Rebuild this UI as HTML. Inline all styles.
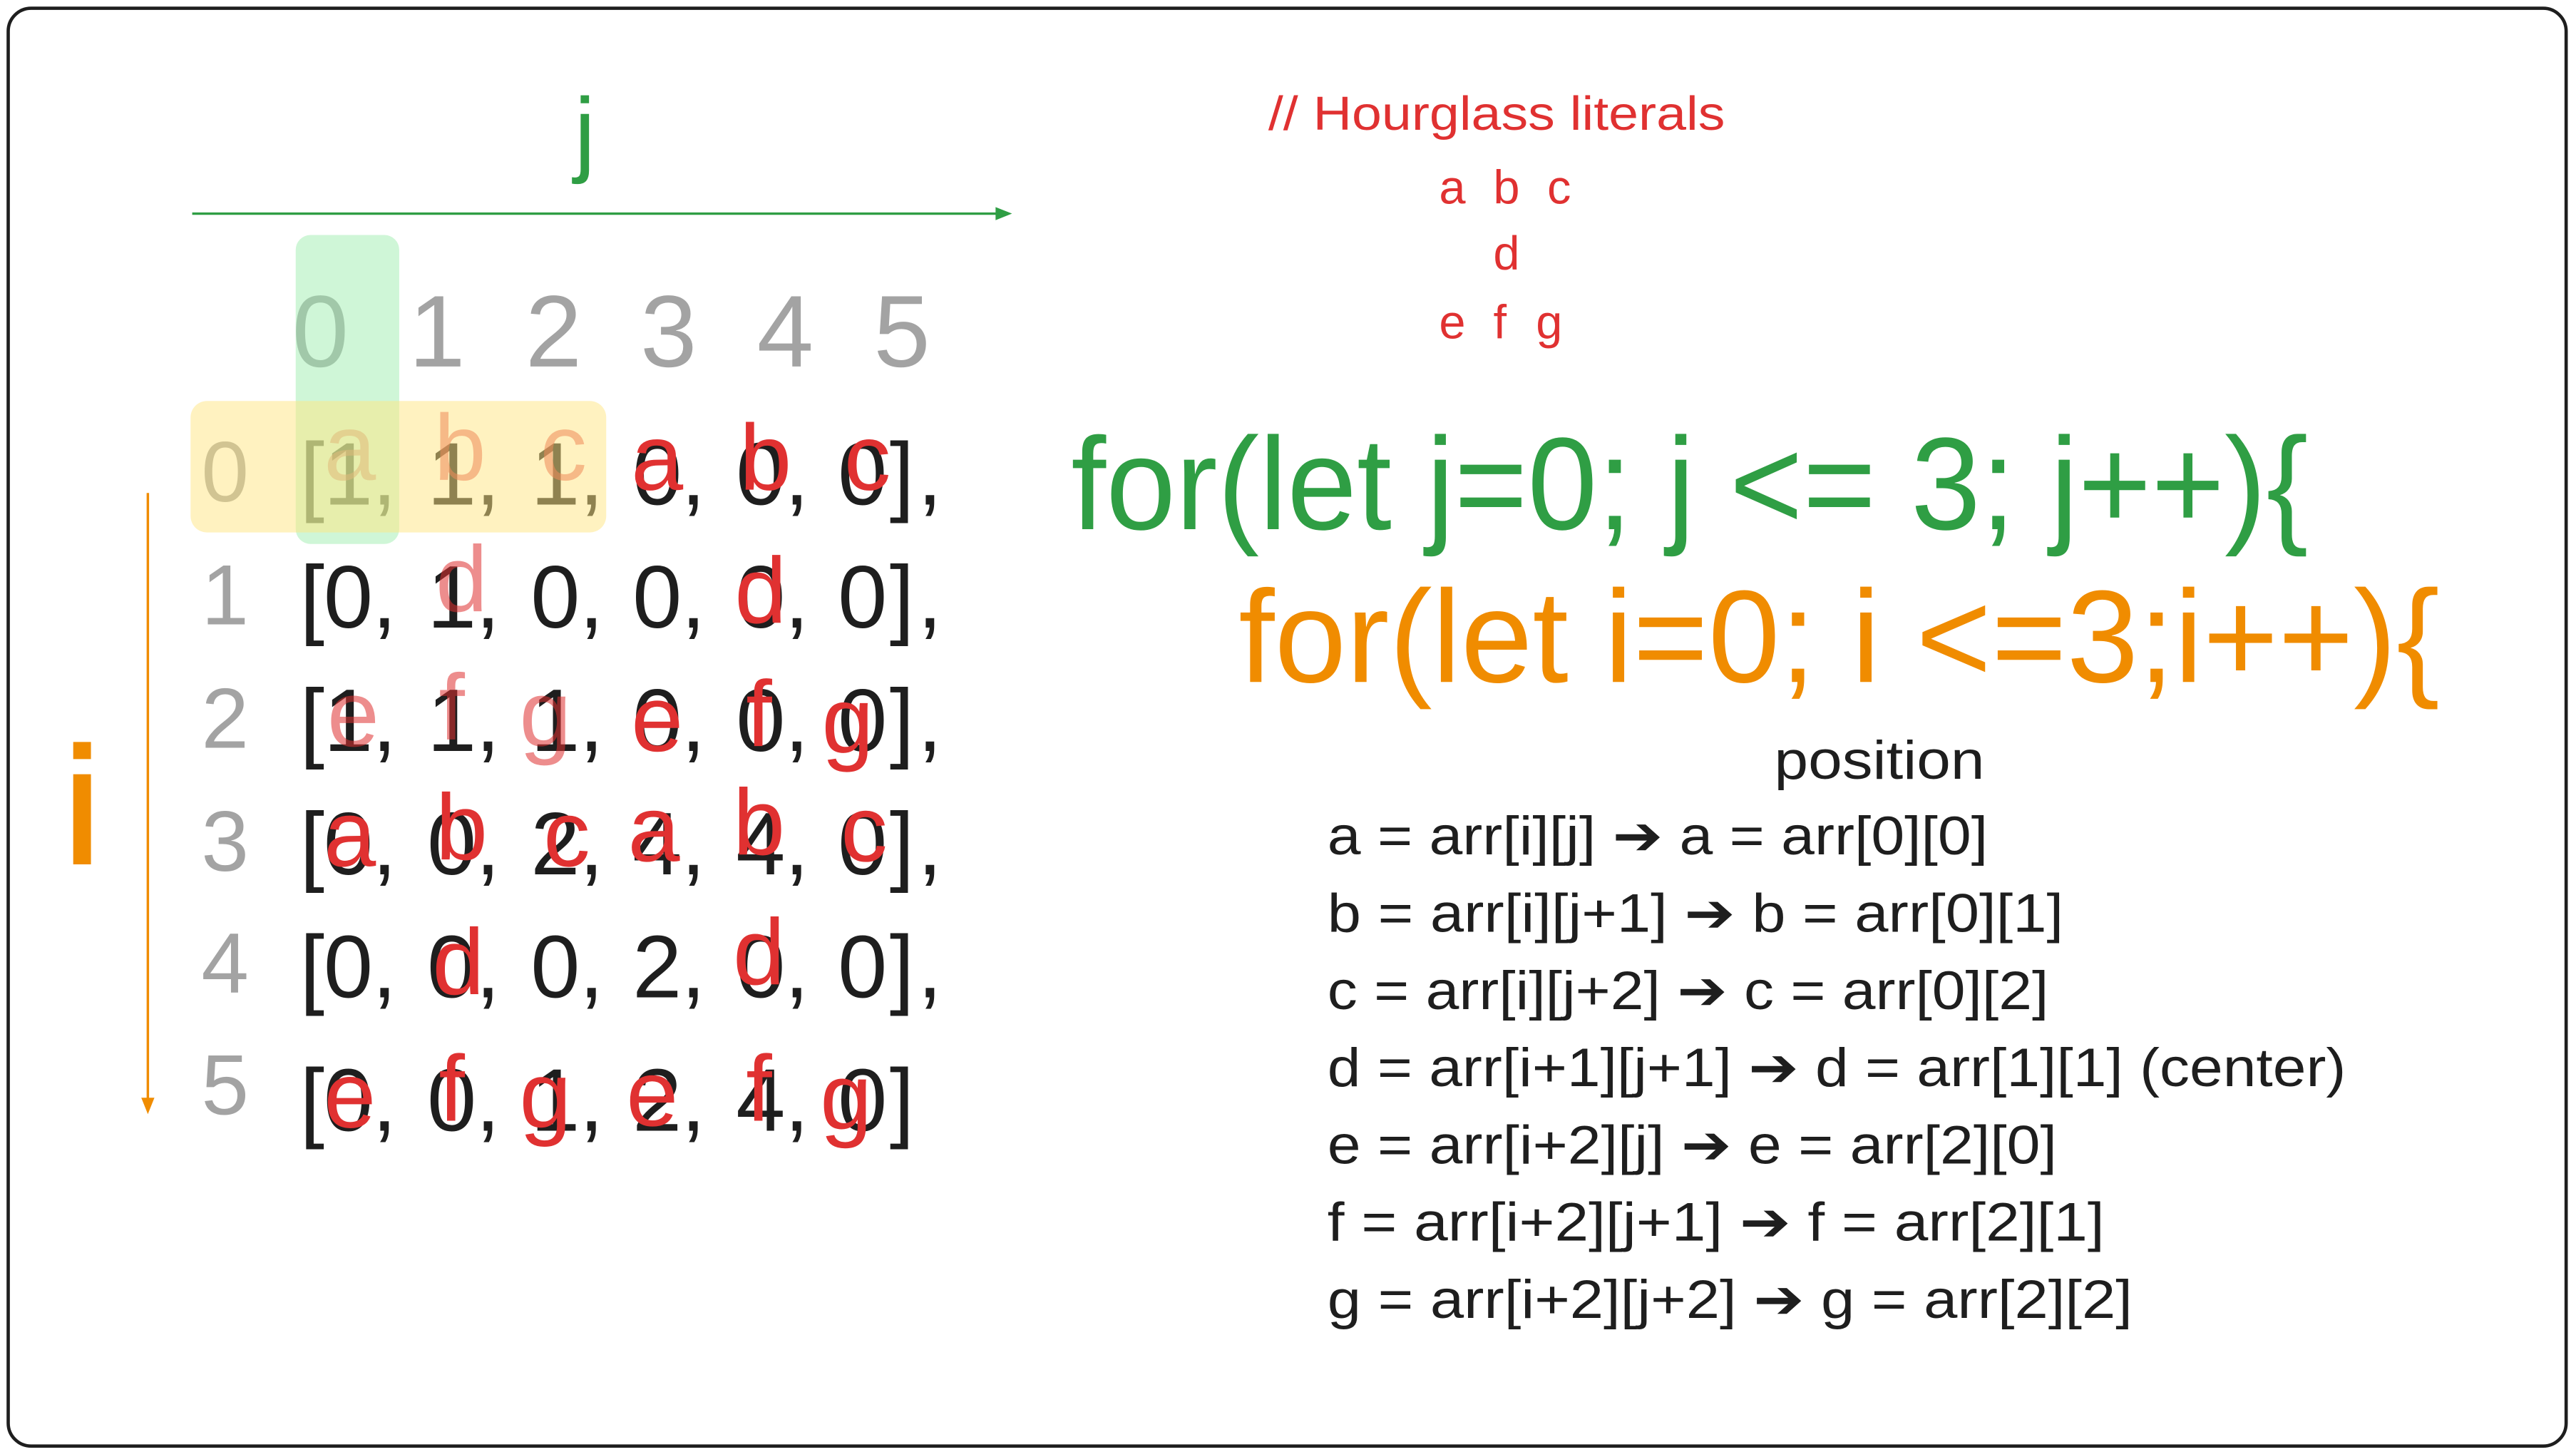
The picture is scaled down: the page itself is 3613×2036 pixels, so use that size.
<!DOCTYPE html>
<html><head><meta charset="utf-8"><style>
html,body{margin:0;padding:0;background:#fff;}
svg{display:block;}
text{font-family:"Liberation Sans",sans-serif;}
</style></head><body>
<svg width="3613" height="2036" viewBox="0 0 1568 883.6" xmlns="http://www.w3.org/2000/svg">
<rect x="0" y="0" width="1568" height="883.6" fill="#fff"/>
<rect x="5" y="5" width="1557" height="875" rx="14" fill="none" stroke="#1e1e1e" stroke-width="2"/>

<text x="356" y="100" font-size="58" fill="#2f9e44" text-anchor="middle">j</text>
<line x1="117" y1="130" x2="612" y2="130" stroke="#2f9e44" stroke-width="1.5"/>
<path d="M606 126 L616 130 L606 134 Z" fill="#2f9e44"/>

<text x="50" y="525" font-size="100" fill="#f08c00" text-anchor="middle" stroke="#f08c00" stroke-width="2">i</text>
<line x1="90" y1="300" x2="90" y2="672" stroke="#f08c00" stroke-width="1.5"/>
<path d="M86 668 L90 678 L94 668 Z" fill="#f08c00"/>

<g font-size="62" fill="#a3a3a3" text-anchor="middle">
<text x="195" y="223">0</text><text x="266" y="223">1</text><text x="337" y="223">2</text>
<text x="407" y="223">3</text><text x="478" y="223">4</text><text x="549" y="223">5</text>
</g>

<g font-size="52" fill="#a3a3a3" text-anchor="middle">
<text x="137" y="305">0</text><text x="137" y="380">1</text><text x="137" y="455">2</text>
<text x="137" y="530">3</text><text x="137" y="604">4</text><text x="137" y="678">5</text>
</g>

<g font-size="54" fill="#1e1e1e" text-anchor="middle">
<g transform="translate(0,307)"><text x="190">[</text><text x="212">1</text><text x="234">,</text><text x="275">1</text><text x="297">,</text><text x="338">1</text><text x="360">,</text><text x="400">0</text><text x="422">,</text><text x="463">0</text><text x="485">,</text><text x="525">0</text><text x="549">]</text><text x="566">,</text></g>
<g transform="translate(0,382)"><text x="190">[</text><text x="212">0</text><text x="234">,</text><text x="275">1</text><text x="297">,</text><text x="338">0</text><text x="360">,</text><text x="400">0</text><text x="422">,</text><text x="463">0</text><text x="485">,</text><text x="525">0</text><text x="549">]</text><text x="566">,</text></g>
<g transform="translate(0,457)"><text x="190">[</text><text x="212">1</text><text x="234">,</text><text x="275">1</text><text x="297">,</text><text x="338">1</text><text x="360">,</text><text x="400">0</text><text x="422">,</text><text x="463">0</text><text x="485">,</text><text x="525">0</text><text x="549">]</text><text x="566">,</text></g>
<g transform="translate(0,532)"><text x="190">[</text><text x="212">0</text><text x="234">,</text><text x="275">0</text><text x="297">,</text><text x="338">2</text><text x="360">,</text><text x="400">4</text><text x="422">,</text><text x="463">4</text><text x="485">,</text><text x="525">0</text><text x="549">]</text><text x="566">,</text></g>
<g transform="translate(0,607)"><text x="190">[</text><text x="212">0</text><text x="234">,</text><text x="275">0</text><text x="297">,</text><text x="338">0</text><text x="360">,</text><text x="400">2</text><text x="422">,</text><text x="463">0</text><text x="485">,</text><text x="525">0</text><text x="549">]</text><text x="566">,</text></g>
<g transform="translate(0,688)"><text x="190">[</text><text x="212">0</text><text x="234">,</text><text x="275">0</text><text x="297">,</text><text x="338">1</text><text x="360">,</text><text x="400">2</text><text x="422">,</text><text x="463">4</text><text x="485">,</text><text x="525">0</text><text x="549">]</text></g>
</g>

<g font-size="57" fill="#e03131" text-anchor="middle">
<g opacity="0.55">
<text x="213" y="292">a</text><text x="280" y="292">b</text><text x="343" y="292">c</text>
<text x="281" y="372">d</text>
<text x="215" y="454">e</text><text x="275" y="450">f</text><text x="332" y="454">g</text>
</g>
<text x="400" y="298">a</text><text x="466" y="298">b</text><text x="528" y="298">c</text>
<text x="463" y="379">d</text>
<text x="400" y="457">e</text><text x="462" y="454">f</text><text x="516" y="458">g</text>
<text x="213" y="527">a</text><text x="281" y="523">b</text><text x="345" y="527">c</text>
<text x="398" y="524">a</text><text x="462" y="520">b</text><text x="526" y="524">c</text>
<text x="279" y="605">d</text><text x="462" y="599">d</text>
<text x="213" y="686">e</text><text x="275" y="682">f</text><text x="332" y="686">g</text>
<text x="397" y="685">e</text><text x="462" y="682">f</text><text x="515" y="687">g</text>
</g>

<rect x="180" y="143" width="63" height="188" rx="9" fill="rgba(160,238,175,0.5)"/>
<rect x="116" y="244" width="253" height="80" rx="10" fill="rgba(255,230,130,0.5)"/>

<g fill="#e03131" font-size="29">
<text x="772" y="79" textLength="278" lengthAdjust="spacingAndGlyphs">// Hourglass literals</text>
<text x="884" y="124" text-anchor="middle">a</text><text x="917" y="124" text-anchor="middle">b</text><text x="949" y="124" text-anchor="middle">c</text>
<text x="917" y="164" text-anchor="middle">d</text>
<text x="884" y="206" text-anchor="middle">e</text><text x="913" y="206" text-anchor="middle">f</text><text x="943" y="206" text-anchor="middle">g</text>
</g>

<text x="652" y="322" font-size="80" fill="#2f9e44" textLength="753" lengthAdjust="spacingAndGlyphs">for(let j=0; j &lt;= 3; j++){</text>
<text x="754" y="415" font-size="80" fill="#f08c00" textLength="731" lengthAdjust="spacingAndGlyphs">for(let i=0; i &lt;=3;i++){</text>

<g fill="#1e1e1e" font-size="33">
<text x="1080" y="474" textLength="128" lengthAdjust="spacingAndGlyphs">position</text>
<text x="808" y="520" textLength="402" lengthAdjust="spacingAndGlyphs">a = arr[i][j] ➔ a = arr[0][0]</text>
<text x="808" y="567" textLength="448" lengthAdjust="spacingAndGlyphs">b = arr[i][j+1] ➔ b = arr[0][1]</text>
<text x="808" y="614" textLength="439" lengthAdjust="spacingAndGlyphs">c = arr[i][j+2] ➔ c = arr[0][2]</text>
<text x="808" y="661" textLength="620" lengthAdjust="spacingAndGlyphs">d = arr[i+1][j+1] ➔ d = arr[1][1] (center)</text>
<text x="808" y="708" textLength="444" lengthAdjust="spacingAndGlyphs">e = arr[i+2][j] ➔ e = arr[2][0]</text>
<text x="808" y="755" textLength="473" lengthAdjust="spacingAndGlyphs">f = arr[i+2][j+1] ➔ f = arr[2][1]</text>
<text x="808" y="802" textLength="490" lengthAdjust="spacingAndGlyphs">g = arr[i+2][j+2] ➔ g = arr[2][2]</text>
</g>
</svg>
</body></html>
